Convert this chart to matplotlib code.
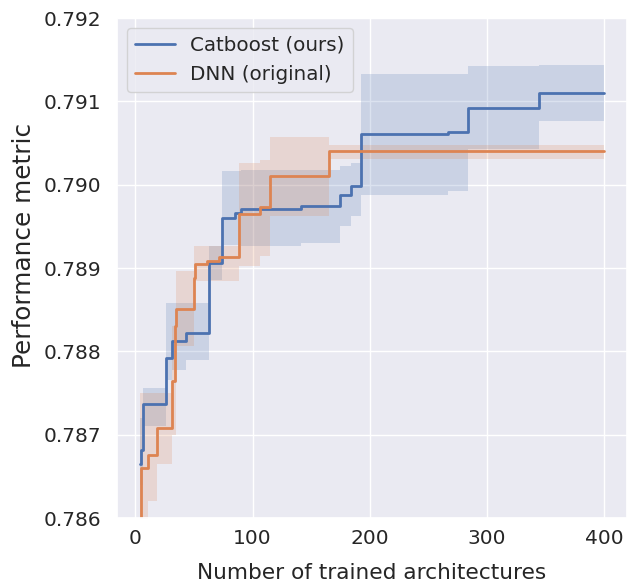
import numpy as np
import matplotlib
matplotlib.use("Agg")
import matplotlib.pyplot as plt
import seaborn as sns
from matplotlib.ticker import FormatStrFormatter

sns.set_theme(style="darkgrid", font_scale=1.3)
plt.rcParams['font.family'] = ['DejaVu Sans']

X_END = 400

# Catboost (ours): step breakpoints (x where value changes)
cb_x    = [4, 5, 6, 26, 31, 43, 63, 74, 85, 90, 141, 175, 184, 193, 267, 284, 345]
cb_mean = [0.78665, 0.78682, 0.78737, 0.78792, 0.78812, 0.78822, 0.78906, 0.78960,
           0.78966, 0.78971, 0.78974, 0.78988, 0.78999, 0.79061, 0.79063, 0.79092, 0.79110]
cb_band_x = [4, 6, 26, 31, 43, 63, 74, 90, 141, 175, 184, 193, 267, 284, 345]
cb_lo   = [0.78640, 0.78710, 0.78766, 0.78778, 0.78790, 0.78886, 0.78928, 0.78926,
           0.78930, 0.78950, 0.78962, 0.78988, 0.78992, 0.79043, 0.79076]
cb_hi   = [0.78720, 0.78756, 0.78858, 0.78858, 0.78858, 0.78926, 0.79016, 0.79018,
           0.79018, 0.79022, 0.79026, 0.79133, 0.79133, 0.79142, 0.79144]

# DNN (original)
dnn_x    = [4, 5, 11, 18, 31, 34, 35, 50, 51, 61, 71, 88, 106, 115, 165]
dnn_mean = [0.78550, 0.78660, 0.78676, 0.78708, 0.78764, 0.78830, 0.78851, 0.78888,
            0.78905, 0.78908, 0.78913, 0.78965, 0.78973, 0.79010, 0.79040]
dnn_band_x = [4, 11, 18, 31, 35, 50, 88, 106, 115, 165]
dnn_lo   = [0.78500, 0.78620, 0.78665, 0.78700, 0.78806, 0.78885, 0.78902, 0.78915,
            0.78962, 0.79031]
dnn_hi   = [0.78750, 0.78750, 0.78750, 0.78830, 0.78896, 0.78926, 0.79026, 0.79030,
            0.79057, 0.79048]

labels = ["Catboost (ours)", "DNN (original)"]
colors = sns.color_palette("deep")


def ext(xs, ys):
    return list(xs) + [X_END], list(ys) + [ys[-1]]


fig = plt.figure(figsize=(6.27, 5.84), dpi=100)
ax = fig.add_axes([117 / 627, 66 / 584, 510 / 627, 500 / 584])

for (mx, my, bx, lo, hi, lab, col) in [
        (cb_x, cb_mean, cb_band_x, cb_lo, cb_hi, labels[0], colors[0]),
        (dnn_x, dnn_mean, dnn_band_x, dnn_lo, dnn_hi, labels[1], colors[1])]:
    xx, yy = ext(mx, my)
    ax.plot(xx, yy, drawstyle="steps-post", color=col, lw=2.0, label=lab)
    bxx, blo = ext(bx, lo)
    _, bhi = ext(bx, hi)
    ax.fill_between(bxx, blo, bhi, step="post", color=col, alpha=0.2, lw=0)

ax.set_ylim(0.786, 0.792)
ax.yaxis.set_major_formatter(FormatStrFormatter("%.3f"))
ax.set_xticks([0, 100, 200, 300, 400])
ax.tick_params(axis="both", length=0, labelsize=14.5)
ax.tick_params(axis="y", pad=11.5)
ax.tick_params(axis="x", pad=7.6)
ax.set_xlabel("Number of trained architectures", fontsize=15.6)
ax.xaxis.set_label_coords(0.5, -0.09)
ax.set_ylabel("Performance metric", fontsize=17.8)
ax.yaxis.set_label_coords(-0.158, 0.546)
ax.legend(loc="upper left")

fig.savefig("out.png", dpi=100)
